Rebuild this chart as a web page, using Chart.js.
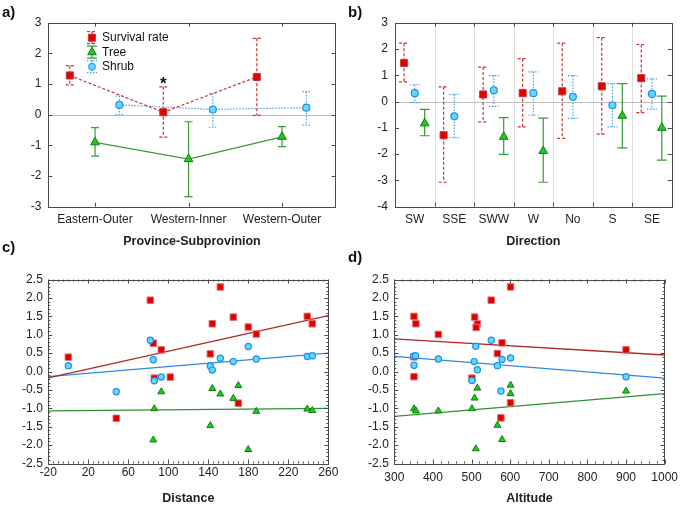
<!DOCTYPE html>
<html>
<head>
<meta charset="utf-8">
<script src="https://cdn.jsdelivr.net/npm/chart.js"></script>
<style>
  body { margin: 0; background: #fff; width: 685px; height: 505px; position: relative; overflow: hidden;
         font-family: "Liberation Sans", Arial, sans-serif; color: #111; }
  canvas { position: absolute; }
  .tag { position: absolute; font-weight: bold; font-size: 15px; line-height: 17px; }
</style>
</head>
<body>
<canvas id="ca" width="342" height="252" style="left:0;top:0"></canvas>
<canvas id="cb" width="343" height="252" style="left:342px;top:0"></canvas>
<canvas id="cc" width="342" height="260" style="left:0;top:250px"></canvas>
<canvas id="cd" width="343" height="260" style="left:342px;top:250px"></canvas>
<div class="tag" style="left:2px;top:3px">a)</div>
<div class="tag" style="left:348px;top:3px">b)</div>
<div class="tag" style="left:2px;top:238px">c)</div>
<div class="tag" style="left:348px;top:248px">d)</div>
<script>
/* global Chart */

// a) province / subprovince means with error bars
const provinces = ['Eastern-Outer', 'Western-Inner', 'Western-Outer'];
const survA = [1.28, 0.08, 1.23];
const survALow = [0.97, -0.73, -0.02];
const survAHigh = [1.6, 0.91, 2.49];
const treeA = [-0.9, -1.45, -0.72];
const treeALow = [-1.35, -2.67, -1.04];
const treeAHigh = [-0.42, -0.23, -0.39];
const shrubA = [0.32, 0.17, 0.23];
const shrubALow = [0.0, -0.41, -0.34];
const shrubAHigh = [0.61, 0.70, 0.75];
const yTicksA = [-3, -2, -1, 0, 1, 2, 3];

// b) direction
const directions = ['SW', 'SSE', 'SWW', 'W', 'No', 'S', 'SE'];
const survB = [1.47, -1.28, 0.27, 0.32, 0.39, 0.58, 0.89];
const survBLow = [0.75, -3.07, -0.77, -0.96, -1.40, -1.24, -0.42];
const survBHigh = [2.22, 0.56, 1.31, 1.63, 2.22, 2.43, 2.17];
const shrubB = [0.32, -0.56, 0.43, 0.32, 0.18, -0.14, 0.29];
const shrubBLow = [-0.04, -1.37, -0.18, -0.52, -0.64, -0.96, -0.29];
const shrubBHigh = [0.64, 0.27, 0.99, 1.13, 0.99, 0.68, 0.86];
const treeB = [-0.83, null, -1.34, -1.88, null, -0.54, -1.0];
const treeBLow = [-1.30, null, -2.01, -3.07, null, -1.76, -2.23];
const treeBHigh = [-0.30, null, -0.61, -0.63, null, 0.68, 0.21];
const yTicksB = [-4, -3, -2, -1, 0, 1, 2, 3];

// c) distance
const survDist = [0, 48, 82, 85, 86, 93, 102, 142, 144, 152, 165, 170, 180, 188, 239, 244];
const survDistVal = [0.39, -1.27, 1.94, 0.77, -0.18, 0.59, -0.15, 0.48, 1.30, 2.30, 1.48, -0.86, 1.21, 1.02, 1.50, 1.30];
const shrubDist = [0, 48, 82, 85, 86, 93, 142, 144, 152, 165, 180, 188, 239, 244];
const shrubDistVal = [0.16, -0.55, 0.85, 0.32, -0.25, -0.15, 0.15, 0.04, 0.36, 0.27, 0.68, 0.34, 0.41, 0.43];
const treeDist = [86, 85, 93, 144, 142, 152, 165, 170, 180, 188, 239, 244];
const treeDistVal = [-1.01, -1.86, -0.55, -0.46, -1.47, -0.61, -0.73, -0.38, -2.12, -1.08, -1.02, -1.06];
const fitDistX = [-20, 260];
const survDistFit = [-0.17, 1.52];
const shrubDistFit = [-0.14, 0.50];
const treeDistFit = [-1.07, -1.00];
const xTicksC = [-20, 20, 60, 100, 140, 180, 220, 260];

// d) altitude
const survAlt = [351, 356, 351, 351, 414, 501, 508, 515, 512, 551, 567, 576, 579, 601, 601, 900];
const survAltVal = [1.50, 1.30, 0.40, -0.14, 1.01, -0.18, 1.48, 1.30, 1.20, 1.94, 0.49, -1.26, 0.78, 2.30, -0.85, 0.59];
const shrubAlt = [351, 350, 355, 414, 501, 507, 511, 515, 551, 567, 576, 579, 601, 900];
const shrubAltVal = [0.17, 0.42, 0.43, 0.34, -0.24, 0.27, 0.69, 0.05, 0.85, 0.16, -0.53, 0.33, 0.37, -0.14];
const treeAlt = [351, 356, 414, 501, 508, 515, 511, 567, 579, 601, 601, 900];
const treeAltVal = [-1.01, -1.07, -1.07, -1.01, -0.72, -0.45, -2.10, -1.46, -1.85, -0.37, -0.60, -0.53];
const fitAltX = [300, 1000];
const survAltFit = [0.89, 0.45];
const shrubAltFit = [0.41, -0.18];
const treeAltFit = [-1.22, -0.60];
const xTicksD = [300, 400, 500, 600, 700, 800, 900, 1000];
const yTicksCD = [-2.5, -2.0, -1.5, -1.0, -0.5, 0.0, 0.5, 1.0, 1.5, 2.0, 2.5];

Chart.defaults.font.family = '"Liberation Sans", Arial, Helvetica, sans-serif';
Chart.defaults.font.size = 12;
Chart.defaults.color = '#222';
Chart.defaults.animation = false;

function pts(xs, ys, lo, hi, off) {
  return ys.map((v, i) => ({ x: xs[i] + (off || 0), y: v, lo: lo ? lo[i] : null, hi: hi ? hi[i] : null }))
    .filter(p => p.y !== null);
}

function red(r, edge) {
  return { pointStyle: 'rect', pointRadius: r, pointHoverRadius: r, pointBackgroundColor: '#e00000',
    pointBorderColor: edge, pointBorderWidth: 1, borderColor: '#c83535', borderWidth: 1.2,
    borderDash: [3, 2], errColor: '#c83535', errDash: [3, 2] };
}
function green(r) {
  return { pointStyle: 'triangle', pointRadius: r, pointHoverRadius: r, pointBackgroundColor: '#1ccc1c',
    pointBorderColor: '#137a13', pointBorderWidth: 1, borderColor: '#3a9a3a', borderWidth: 1.3,
    errColor: '#3a9a3a', errDash: [] };
}
function blue(r) {
  return { pointStyle: 'circle', pointRadius: r, pointHoverRadius: r, pointBackgroundColor: '#62d8ff',
    pointBorderColor: '#1f8fe8', pointBorderWidth: 1.2, borderColor: '#4aa0f0', borderWidth: 1.2,
    borderDash: [1.5, 1.5], errColor: '#4aa0f0', errDash: [1.5, 1.5] };
}

function axis(min, max, tickVals, size, horiz, fmt, title, pad, titlePad) {
  return {
    type: 'linear', min: min, max: max,
    grid: { display: false, drawTicks: false },
    border: { display: false },
    afterBuildTicks: s => { s.ticks = tickVals.map(v => ({ value: v })); },
    afterFit: s => { if (horiz) s.height = size; else s.width = size; },
    ticks: { padding: pad, autoSkip: false, maxRotation: 0, callback: fmt },
    title: title ? { display: true, text: title, font: { size: 12.5, weight: 'bold' }, color: '#222',
      padding: { top: 0, bottom: titlePad } } : { display: false }
  };
}

function seg(ctx, x1, y1, x2, y2) {
  ctx.beginPath(); ctx.moveTo(x1, y1); ctx.lineTo(x2, y2); ctx.stroke();
}

function steps(scale, step) {
  const out = [];
  const n = Math.round((scale.max - scale.min) / step);
  for (let i = 0; i <= n; i++) out.push(scale.min + i * step);
  return out;
}

const decor = {
  id: 'decor',
  beforeDatasetsDraw(chart, args, o) {
    const { ctx, chartArea: a, scales: { x, y } } = chart;
    ctx.save();
    ctx.lineWidth = 1;
    if (o.vGrid) {
      ctx.strokeStyle = '#dedede';
      o.vGrid.forEach(v => {
        const p = Math.round(x.getPixelForValue(v)) + 0.5;
        seg(ctx, p, a.top, p, a.bottom);
      });
    }
    if (o.zeroLine) {
      ctx.strokeStyle = '#bdbdbd';
      const p = Math.round(y.getPixelForValue(0)) + 0.5;
      seg(ctx, a.left, p, a.right, p);
    }
    // error bars
    chart.data.datasets.forEach(ds => {
      if (!ds.errColor) return;
      ctx.strokeStyle = ds.errColor;
      ctx.lineWidth = 1.2;
      ctx.setLineDash(ds.errDash || []);
      const cap = o.cap || 4.5;
      ds.data.forEach(p => {
        if (p.lo === null || p.lo === undefined) return;
        const px = x.getPixelForValue(p.x);
        const top = y.getPixelForValue(p.hi);
        const bot = y.getPixelForValue(p.lo);
        ctx.beginPath();
        ctx.moveTo(px, top); ctx.lineTo(px, bot);
        ctx.moveTo(px - cap, top); ctx.lineTo(px + cap, top);
        ctx.moveTo(px - cap, bot); ctx.lineTo(px + cap, bot);
        ctx.stroke();
      });
    });
    ctx.restore();
  },
  afterDraw(chart, args, o) {
    const { ctx, chartArea: a, scales: { x, y } } = chart;
    ctx.save();
    ctx.strokeStyle = '#4a4a4a';
    ctx.lineWidth = 1;
    ctx.setLineDash([]);
    // inward ticks
    const majX = o.xTicks || x.ticks.map(t => t.value);
    const majY = y.ticks.map(t => t.value);
    const marks = (xs, ys, len) => {
      xs.forEach(v => {
        const p = Math.round(x.getPixelForValue(v)) + 0.5;
        seg(ctx, p, a.bottom, p, a.bottom - len);
        seg(ctx, p, a.top, p, a.top + len);
      });
      ys.forEach(v => {
        const p = Math.round(y.getPixelForValue(v)) + 0.5;
        seg(ctx, a.left, p, a.left + len, p);
        seg(ctx, a.right, p, a.right - len, p);
      });
    };
    if (o.minorX) marks(steps(x, o.minorX), steps(y, o.minorY), 2);
    marks(majX, majY, 4);
    ctx.strokeRect(Math.round(a.left) + 0.5, Math.round(a.top) + 0.5,
      Math.round(a.right - a.left), Math.round(a.bottom - a.top));

    // legend inside the plot
    if (o.legend) {
      chart.data.datasets.forEach((ds, i) => {
        const lx = o.legend.x, ly = o.legend.y + i * o.legend.gap;
        ctx.strokeStyle = ds.errColor;
        ctx.lineWidth = 1.2;
        ctx.setLineDash(ds.errDash);
        ctx.beginPath();
        ctx.moveTo(lx, ly - 6); ctx.lineTo(lx, ly + 6);
        ctx.moveTo(lx - 5, ly - 6); ctx.lineTo(lx + 5, ly - 6);
        ctx.moveTo(lx - 5, ly + 6); ctx.lineTo(lx + 5, ly + 6);
        ctx.stroke();
        ctx.setLineDash([]);
        ctx.fillStyle = ds.pointBackgroundColor;
        ctx.strokeStyle = ds.pointBorderColor;
        ctx.lineWidth = 1;
        Chart.helpers.drawPoint(ctx, { pointStyle: ds.pointStyle, radius: ds.pointRadius, rotation: 0, borderWidth: 1 }, lx, ly);
        ctx.fillStyle = '#111';
        ctx.font = '12px "Liberation Sans", Arial, sans-serif';
        ctx.textBaseline = 'middle';
        ctx.textAlign = 'left';
        ctx.fillText(ds.label, lx + 10, ly);
      });
    }
    if (o.mark) {
      ctx.fillStyle = '#111';
      ctx.font = 'bold 17px "Liberation Sans", Arial, sans-serif';
      ctx.textAlign = 'center';
      ctx.textBaseline = 'middle';
      ctx.fillText(o.mark.text, x.getPixelForValue(o.mark.x), y.getPixelForValue(o.mark.y));
    }
    ctx.restore();
  }
};

const basePlugins = { legend: { display: false }, tooltip: { enabled: false } };

// ---- a)
const catA = provinces.map((_, i) => i + 1);
new Chart(document.getElementById('ca'), {
  type: 'scatter',
  data: {
    datasets: [
      Object.assign({ label: 'Survival rate', data: pts(catA, survA, survALow, survAHigh, -0.27), showLine: true }, red(5, '#c03a3a')),
      Object.assign({ label: 'Tree', data: pts(catA, treeA, treeALow, treeAHigh, 0), showLine: true }, green(5)),
      Object.assign({ label: 'Shrub', data: pts(catA, shrubA, shrubALow, shrubAHigh, 0.26), showLine: true }, blue(3.5))
    ]
  },
  options: {
    responsive: false,
    layout: { padding: { left: 0, top: 22.7, right: 6.3, bottom: 0 } },
    plugins: Object.assign({}, basePlugins, {
      decor: { zeroLine: true, cap: 4, legend: { x: 92, y: 37.7, gap: 14.5 }, mark: { x: 1.73, y: 1.0, text: '*' } }
    }),
    scales: {
      x: axis(0.5, 3.574, catA, 45.3, true, v => provinces[v - 1], 'Province-Subprovinion', 6, 2.5),
      y: axis(-3, 3, yTicksA, 48.3, false, v => v, null, 7)
    }
  },
  plugins: [decor]
});

// ---- b)
const catB = directions.map((_, i) => i + 1);
const boundsB = directions.slice(1).map((_, i) => i + 1.5);
new Chart(document.getElementById('cb'), {
  type: 'scatter',
  data: {
    datasets: [
      Object.assign({ label: 'Survival rate', data: pts(catB, survB, survBLow, survBHigh, -0.27) }, red(5, '#c03a3a')),
      Object.assign({ label: 'Shrub', data: pts(catB, shrubB, shrubBLow, shrubBHigh, 0) }, blue(3.5)),
      Object.assign({ label: 'Tree', data: pts(catB, treeB, treeBLow, treeBHigh, 0.25) }, green(5))
    ]
  },
  options: {
    responsive: false,
    layout: { padding: { left: 0, top: 22.7, right: 13.3, bottom: 0 } },
    plugins: Object.assign({}, basePlugins, { decor: { zeroLine: true, vGrid: boundsB, xTicks: boundsB, cap: 5 } }),
    scales: {
      x: axis(0.5, 7.5, catB, 45.3, true, v => directions[v - 1], 'Direction', 6, 2.5),
      y: axis(-4, 3, yTicksB, 53, false, v => v, null, 7)
    }
  },
  plugins: [decor]
});

// ---- c) and d)
function scatterPanel(id, xs, fitX, fits, xTicks, xMin, xMax, yWidth, padRight, xPad, minorX, title) {
  const fitLine = (vals, color) => ({
    data: fitX.map((v, i) => ({ x: v, y: vals[i] })), showLine: true, pointRadius: 0,
    borderColor: color, borderWidth: 1.3, order: 5
  });
  new Chart(document.getElementById(id), {
    type: 'scatter',
    data: {
      datasets: [
        Object.assign({ data: pts(xs[0][0], xs[0][1]), order: 3 }, red(4.6, '#de7070'), { errColor: null }),
        Object.assign({ data: pts(xs[1][0], xs[1][1]), order: 2 }, blue(3.1), { errColor: null }),
        Object.assign({ data: pts(xs[2][0], xs[2][1]), order: 1 }, green(4), { errColor: null }),
        fitLine(fits[0], '#b02a2a'),
        fitLine(fits[1], '#2f8be6'),
        fitLine(fits[2], '#2f9232')
      ]
    },
    options: {
      responsive: false,
      layout: { padding: { left: 0, top: 29.6, right: padRight, bottom: 0 } },
      plugins: Object.assign({}, basePlugins, { decor: { minorX: minorX, minorY: 0.1 } }),
      clip: false,
      scales: {
        x: axis(xMin, xMax, xTicks, 46.5, true, v => v, title, xPad, 3.5),
        y: axis(-2.5, 2.5, yTicksCD, yWidth, false, v => v.toFixed(1), null, 5.5)
      }
    },
    plugins: [decor]
  });
}

scatterPanel('cc',
  [[survDist, survDistVal], [shrubDist, shrubDistVal], [treeDist, treeDistVal]],
  fitDistX, [survDistFit, shrubDistFit, treeDistFit], xTicksC, -20, 260, 48.3, 13.7, 2, 5, 'Distance');

scatterPanel('cd',
  [[survAlt, survAltVal], [shrubAlt, shrubAltVal], [treeAlt, treeAltVal]],
  fitAltX, [survAltFit, shrubAltFit, treeAltFit], xTicksD, 300, 1000, 52.3, 14, 7, 20, 'Altitude');
</script>
</body>
</html>
